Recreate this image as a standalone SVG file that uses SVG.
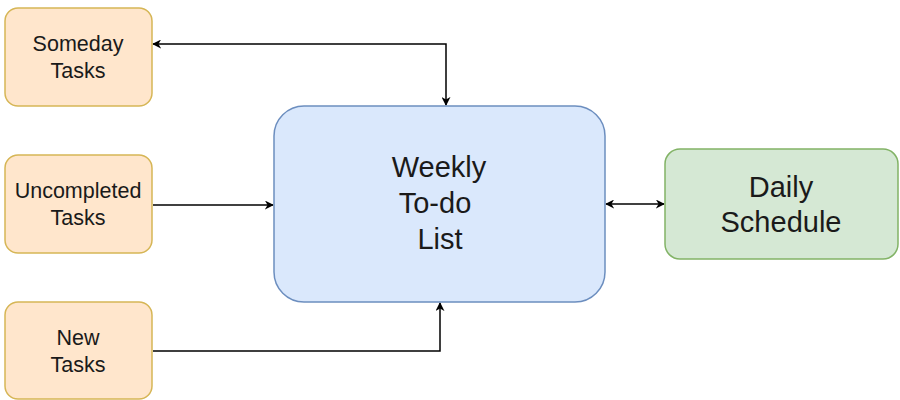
<svg xmlns="http://www.w3.org/2000/svg" width="900" height="400" viewBox="0 0 900 400">
<style>
.o{fill:#ffe6cc;stroke:#d6b656;stroke-width:1.5}
.b{fill:#dae8fc;stroke:#6c8ebf;stroke-width:1.5}
.g{fill:#d5e8d4;stroke:#82b366;stroke-width:1.5}
.t{font-family:"Liberation Sans",Arial,sans-serif;fill:#1a1a1a;text-anchor:middle}
.s{font-size:21.5px}
.l{font-size:29px}
.c{fill:none;stroke:#000;stroke-width:1.5}
</style>
<defs>
<marker id="a" viewBox="0 0 10 10" refX="9" refY="5" markerWidth="9" markerHeight="9" markerUnits="userSpaceOnUse" orient="auto-start-reverse">
<path d="M0,0 L10,5 L0,10 L3,5 Z" fill="#000"/>
</marker>
</defs>
<rect width="900" height="400" fill="#fff"/>
<g id="connectors">
<path class="c" d="M446,105 V44 H153" marker-start="url(#a)" marker-end="url(#a)"/>
<path class="c" d="M153,205 H273" marker-end="url(#a)"/>
<path class="c" d="M153,351 H440 V303" marker-end="url(#a)"/>
<path class="c" d="M606,204 H664" marker-start="url(#a)" marker-end="url(#a)"/>
</g>
<g id="someday">
<rect class="o" x="5" y="8" width="147" height="98" rx="13"/>
<text class="t s" x="78" y="51">Someday</text>
<text class="t s" x="78" y="78">Tasks</text>
</g>
<g id="uncompleted">
<rect class="o" x="5" y="155" width="147" height="98" rx="13"/>
<text class="t s" x="78" y="198">Uncompleted</text>
<text class="t s" x="78" y="225">Tasks</text>
</g>
<g id="new">
<rect class="o" x="5" y="302" width="147" height="97" rx="13"/>
<text class="t s" x="78" y="345">New</text>
<text class="t s" x="78" y="372">Tasks</text>
</g>
<g id="weekly">
<rect class="b" x="274" y="106" width="331" height="196" rx="30"/>
<text class="t l" x="439" y="177">Weekly</text>
<text class="t l" x="435" y="213">To-do</text>
<text class="t l" x="440" y="249">List</text>
</g>
<g id="daily">
<rect class="g" x="665" y="149" width="233" height="110" rx="15"/>
<text class="t l" x="781" y="197">Daily</text>
<text class="t l" x="781" y="232">Schedule</text>
</g>
</svg>
